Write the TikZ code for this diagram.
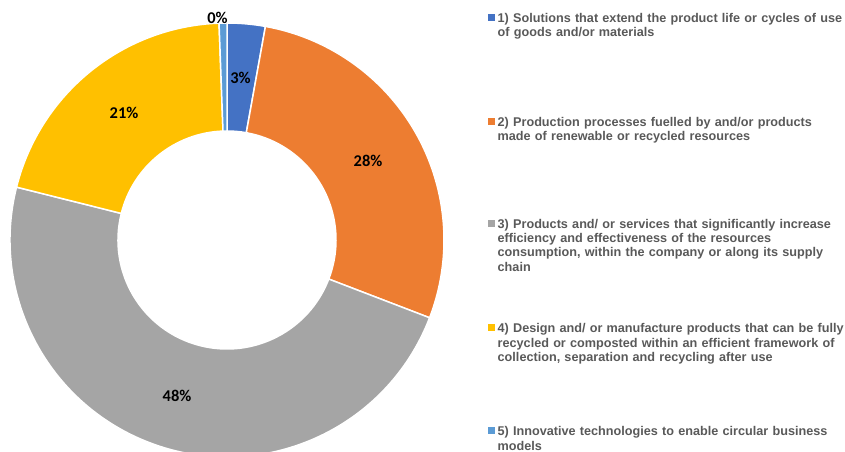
\documentclass[tikz,border=0pt]{standalone}
\usepackage{fontspec}
\setmainfont{Liberation Sans}
\newfontfamily\lblfont{Carlito}
\definecolor{cblue}{HTML}{4472C4}
\definecolor{corange}{HTML}{ED7D31}
\definecolor{cgrey}{HTML}{A5A5A5}
\definecolor{cyellow}{HTML}{FFC000}
\definecolor{clblue}{HTML}{5B9BD5}
\definecolor{leggray}{HTML}{595959}
\newcommand\dslice[3]{%
  \filldraw[slice, fill=#3] ([shift={(#1:217)}]C) arc[start angle=#1, end angle=#2, radius=217]
    -- ([shift={(#2:109)}]C) arc[start angle=#2, end angle=#1, radius=109] -- cycle;}
\begin{document}
\begin{tikzpicture}[x=1bp,y=1bp,
  slice/.style={draw=white, line width=1.5bp, line join=miter},
  pct/.style={font=\lblfont\bfseries\fontsize{16.5}{18}\selectfont, text=black, inner sep=0},
  legtext/.style={anchor=base west, inner sep=0, text width=350bp, align=left,
    font=\bfseries\fontsize{12.7}{14.4}\selectfont, text=leggray},
  marker/.style={minimum size=7bp, inner sep=0, draw=none}]
\useasboundingbox (0,0) rectangle (845,452);
\coordinate (C) at (227,212);
% donut slices
\dslice{90}{79.8}{cblue}
\dslice{79.8}{-21}{corange}
\dslice{-21}{-194.1}{cgrey}
\dslice{-194.1}{-267.9}{cyellow}
\dslice{-267.9}{-270}{clblue}
% percentage labels
\node[pct] (p0) at (217.5,434.3) {0\%};
\node[pct] (p1) at (240.5,374.5) {3\%};
\node[pct] (p2) at (368,291) {28\%};
\node[pct] (p3) at (177,56) {48\%};
\node[pct] (p4) at (124,339) {21\%};
% legend
\node[marker, fill=cblue] (m1) at (491.5,434.5) {};
\node[legtext] (l1) at (497.5,429.5) {1) Solutions that extend the product life or cycles of use\\of goods and/or materials};
\node[marker, fill=corange] (m2) at (491.5,330.5) {};
\node[legtext] (l2) at (497.5,325.5) {2) Production processes fuelled by and/or products\\made of renewable or recycled resources};
\node[marker, fill=cgrey] (m3) at (491.5,228.7) {};
\node[legtext] (l3) at (497.5,223.7) {3) Products and/ or services that significantly increase\\efficiency and effectiveness of the resources\\consumption, within the company or along its supply\\chain};
\node[marker, fill=cyellow] (m4) at (491.5,124.3) {};
\node[legtext] (l4) at (497.5,119.3) {4) Design and/ or manufacture products that can be fully\\recycled or composted within an efficient framework of\\collection, separation and recycling after use};
\node[marker, fill=clblue] (m5) at (491.5,21) {};
\node[legtext] (l5) at (497.5,16) {5) Innovative technologies to enable circular business\\models};
\end{tikzpicture}
\end{document}
